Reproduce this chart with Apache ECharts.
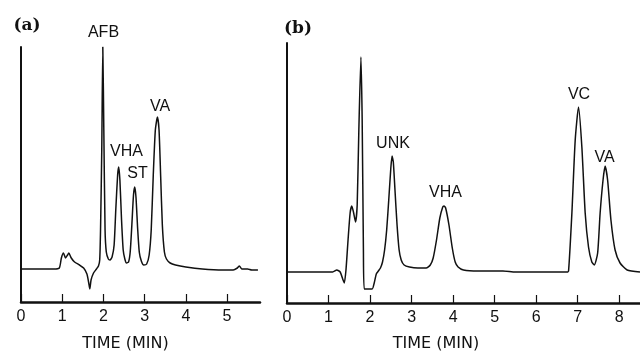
<!DOCTYPE html>
<html>
<head>
<meta charset="utf-8">
<script src="https://cdn.jsdelivr.net/npm/echarts@6/dist/echarts.min.js"></script>
<style>
html,body{margin:0;padding:0;background:#fff;}
#chart{width:640px;height:352px;}
</style>
</head>
<body>
<div id="chart"></div>
<script>
// Panel (a): retention time (min) and detector signal (arbitrary units)
const timeA = [0, 0.8, 0.93, 0.98, 1.03, 1.08, 1.13, 1.16, 1.22, 1.30, 1.42, 1.52, 1.60, 1.64, 1.67, 1.70, 1.76, 1.83, 1.88, 1.91, 1.93, 1.96, 1.985, 2.01, 2.04, 2.07, 2.12, 2.16, 2.21, 2.26, 2.30, 2.345, 2.37, 2.40, 2.44, 2.48, 2.52, 2.56, 2.61, 2.65, 2.69, 2.73, 2.76, 2.79, 2.83, 2.87, 2.92, 2.98, 3.05, 3.11, 3.16, 3.21, 3.26, 3.31, 3.35, 3.39, 3.43, 3.48, 3.53, 3.62, 3.75, 4.0, 4.4, 4.9, 5.15, 5.25, 5.3, 5.36, 5.5, 5.6, 5.75];
const signalA = [33, 33, 34, 44, 49, 44, 47, 49, 44, 40, 37, 34, 28, 20, 13, 22, 29, 33, 36, 42, 72, 152, 255, 172, 72, 50, 43, 42, 45, 57, 92, 127, 135, 122, 82, 52, 43, 39, 40, 50, 77, 107, 115, 105, 74, 50, 41, 37, 38, 47, 72, 127, 172, 185, 172, 125, 77, 50, 43, 39, 37, 35, 33, 32, 32, 34, 36, 33, 33, 32, 32];

// Panel (b)
const timeB = [0, 1.1, 1.2, 1.28, 1.35, 1.38, 1.42, 1.47, 1.52, 1.56, 1.60, 1.65, 1.69, 1.73, 1.78, 1.81, 1.84, 1.86, 2.05, 2.10, 2.15, 2.20, 2.25, 2.30, 2.35, 2.40, 2.45, 2.50, 2.53, 2.56, 2.60, 2.65, 2.70, 2.75, 2.82, 2.95, 3.15, 3.35, 3.45, 3.52, 3.60, 3.68, 3.75, 3.78, 3.82, 3.90, 3.98, 4.05, 4.12, 4.25, 4.6, 5.2, 5.5, 6.0, 6.5, 6.75, 6.78, 6.86, 6.94, 7.02, 7.10, 7.18, 7.26, 7.34, 7.40, 7.48, 7.54, 7.61, 7.66, 7.72, 7.80, 7.90, 8.02, 8.19, 8.5];
const signalB = [31, 31, 33, 31, 23, 20, 33, 63, 90, 97, 91, 81, 98, 173, 246, 183, 53, 14, 14, 20, 29, 32, 35, 41, 53, 73, 103, 135, 147, 141, 113, 78, 53, 43, 38, 36, 35, 35, 38, 45, 63, 85, 96, 97, 95, 78, 55, 41, 36, 33, 32, 32, 31, 31, 31, 31, 32, 90, 163, 196, 156, 90, 56, 41, 38, 50, 90, 123, 137, 123, 83, 53, 40, 33, 31];

const tickLabelsA = ['0', '1', '2', '3', '4', '5'];
const tickLabelsB = ['0', '1', '2', '3', '4', '5', '6', '7', '8'];
const axisTitle = 'TIME (MIN)';
const panelTitles = ['(a)', '(b)'];
const peakNamesA = ['AFB', 'VHA', 'ST', 'VA'];
const peakNamesB = ['UNK', 'VHA', 'VC', 'VA'];

const pairsA = timeA.map((t, i) => [t, signalA[i]]);
const pairsB = timeB.map((t, i) => [t, signalB[i]]);

const ink = '#111';
const sans = 'Liberation Sans, Arial, sans-serif';

function xAx(gi, max, labels) {
  return {
    type: 'value', gridIndex: gi, min: 0, max: max, interval: 1,
    axisLine: { show: true, onZero: false, lineStyle: { color: ink, width: 2.5 } },
    axisTick: { show: true, inside: true, length: 8, lineStyle: { color: ink, width: 1.2 } },
    axisLabel: {
      show: true, margin: 7, color: ink, fontSize: 16, fontFamily: sans,
      showMaxLabel: false,
      formatter: v => (Math.abs(v - Math.round(v)) < 1e-6 && labels[Math.round(v)] !== undefined) ? labels[Math.round(v)] : ''
    },
    splitLine: { show: false }
  };
}
function yAx(gi, max) {
  return {
    type: 'value', gridIndex: gi, min: 0, max: max,
    axisLine: { show: true, lineStyle: { color: ink, width: 2 } },
    axisTick: { show: false }, axisLabel: { show: false }, splitLine: { show: false }
  };
}
function txt(text, x, y, opts) {
  return {
    type: 'text', x: x, y: y, silent: true,
    style: Object.assign({
      text: text, fill: ink, font: '16px ' + sans,
      textAlign: 'center', textVerticalAlign: 'middle'
    }, opts || {})
  };
}
const boldSerif = 'bold 17px "DejaVu Serif", "Liberation Serif", serif';

const chart = echarts.init(document.getElementById('chart'), null, { renderer: 'canvas' });
chart.setOption({
  backgroundColor: '#fff',
  animation: false,
  grid: [
    { left: 21, top: 47, width: 239, height: 255 },
    { left: 287, top: 43, width: 353, height: 260 }
  ],
  xAxis: [xAx(0, 5.8, tickLabelsA), xAx(1, 8.5, tickLabelsB)],
  yAxis: [yAx(0, 255), yAx(1, 260)],
  series: [
    { type: 'line', xAxisIndex: 0, yAxisIndex: 0, data: pairsA, showSymbol: false, smooth: 0.2,
      lineStyle: { color: ink, width: 1.5 } },
    { type: 'line', xAxisIndex: 1, yAxisIndex: 1, data: pairsB, showSymbol: false, smooth: 0.2,
      lineStyle: { color: ink, width: 1.5 } }
  ],
  graphic: [
    txt(panelTitles[0], 27, 26, { font: boldSerif }),
    txt(panelTitles[1], 298, 29, { font: boldSerif }),
    txt(peakNamesA[0], 103.5, 32.5),
    txt(peakNamesA[1], 126.5, 152),
    txt(peakNamesA[2], 137.5, 174),
    txt(peakNamesA[3], 160, 107),
    txt(peakNamesB[0], 393, 143.5),
    txt(peakNamesB[1], 445.5, 192.5),
    txt(peakNamesB[2], 579, 95),
    txt(peakNamesB[3], 604.5, 158),
    txt(axisTitle, 125.5, 344, { font: '16px "DejaVu Sans", ' + sans }),
    txt(axisTitle, 436, 344, { font: '16px "DejaVu Sans", ' + sans })
  ]
});
</script>
</body>
</html>
